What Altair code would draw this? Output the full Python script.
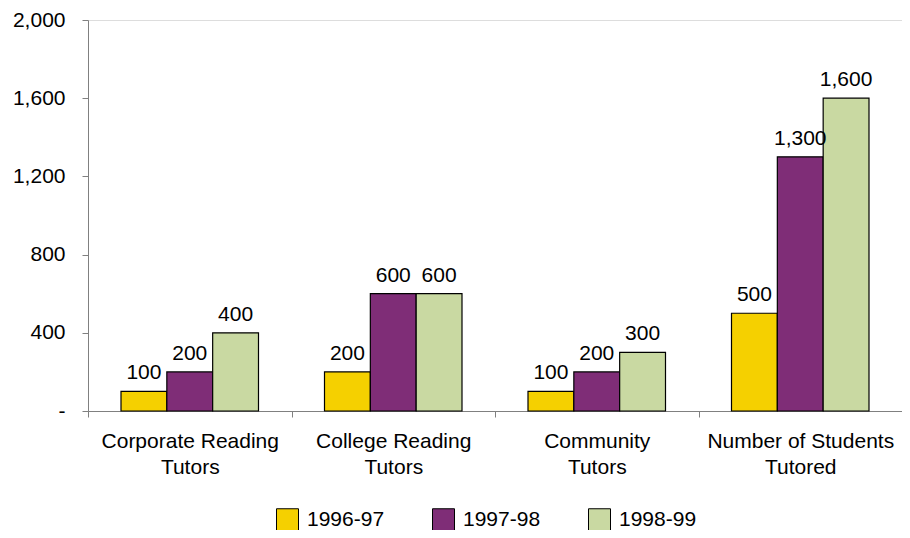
import altair as alt
import pandas as pd

categories = ["Corporate Reading Tutors", "College Reading Tutors", "Community Tutors", "Number of Students Tutored"]
cat_lines = [["Corporate Reading", "Tutors"], ["College Reading", "Tutors"], ["Community", "Tutors"], ["Number of Students", "Tutored"]]
years = ["1996-97", "1997-98", "1998-99"]
values = {
    "1996-97": [100, 200, 100, 500],
    "1997-98": [200, 600, 200, 1300],
    "1998-99": [400, 600, 300, 1600],
}
colors = ["#F5D000", "#7F2D77", "#C9D9A2"]
y_ticks = [0, 400, 800, 1200, 1600, 2000]

rows = []
for y in years:
    for c, v in zip(categories, values[y]):
        rows.append({"category": c, "year": y, "value": v})
df = pd.DataFrame(rows)

label_expr = ""
for c, lines in zip(categories, cat_lines):
    label_expr += "datum.label == '%s' ? ['%s', '%s'] : " % (c, lines[0], lines[1])
label_expr += "datum.label"

FONT = "Liberation Sans"
FS = 21

base = alt.Chart(df).encode(
    x=alt.X("category:N", sort=categories, title=None,
            scale=alt.Scale(paddingInner=0, paddingOuter=0),
            axis=alt.Axis(labelExpr=label_expr, labelAngle=0, labelFontSize=FS, labelFont=FONT,
                          labelColor="black", labelPadding=13, labelLineHeight=26,
                          labelLimit=0, labelOverlap=False,
                          tickBand="extent", tickSize=6, tickColor="#808080",
                          domainColor="#808080", labelBaseline="top")),
    xOffset=alt.XOffset("year:N", sort=years,
                        scale=alt.Scale(paddingInner=0, paddingOuter=0.72)),
)

bars = base.mark_bar(stroke="black", strokeWidth=1.2).encode(
    y=alt.Y("value:Q", title=None,
            scale=alt.Scale(domain=[0, 2000]),
            axis=alt.Axis(values=y_ticks, grid=False,
                          labelExpr="datum.value == 0 ? '-' : format(datum.value, ',')",
                          labelFontSize=FS, labelFont=FONT, labelColor="black",
                          labelPadding=17, tickSize=6, tickColor="#808080",
                          domainColor="#808080")),
    color=alt.Color("year:N", sort=years, title=None,
                    scale=alt.Scale(domain=years, range=colors),
                    legend=alt.Legend(orient="none", legendX=188, legendY=488,
                                      direction="horizontal",
                                      symbolType="square", symbolSize=484,
                                      symbolStrokeColor="black", symbolStrokeWidth=1,
                                      labelFontSize=FS, labelFont=FONT, labelColor="black",
                                      columnPadding=45, labelOffset=8)),
)

texts = base.mark_text(baseline="bottom", dy=-8, fontSize=FS, font=FONT, color="black").encode(
    y=alt.Y("value:Q"),
    text=alt.Text("value:Q", format=","),
)

chart = alt.layer(bars, texts).properties(
    width=814, height=391,
    autosize=alt.AutoSizeParams(type="none"),
    padding={"left": 80, "top": 12, "right": 0, "bottom": 119},
).configure_view(stroke=None).configure(background="white")

chart.save("out.html", embed_options={"renderer": "svg", "actions": False})
